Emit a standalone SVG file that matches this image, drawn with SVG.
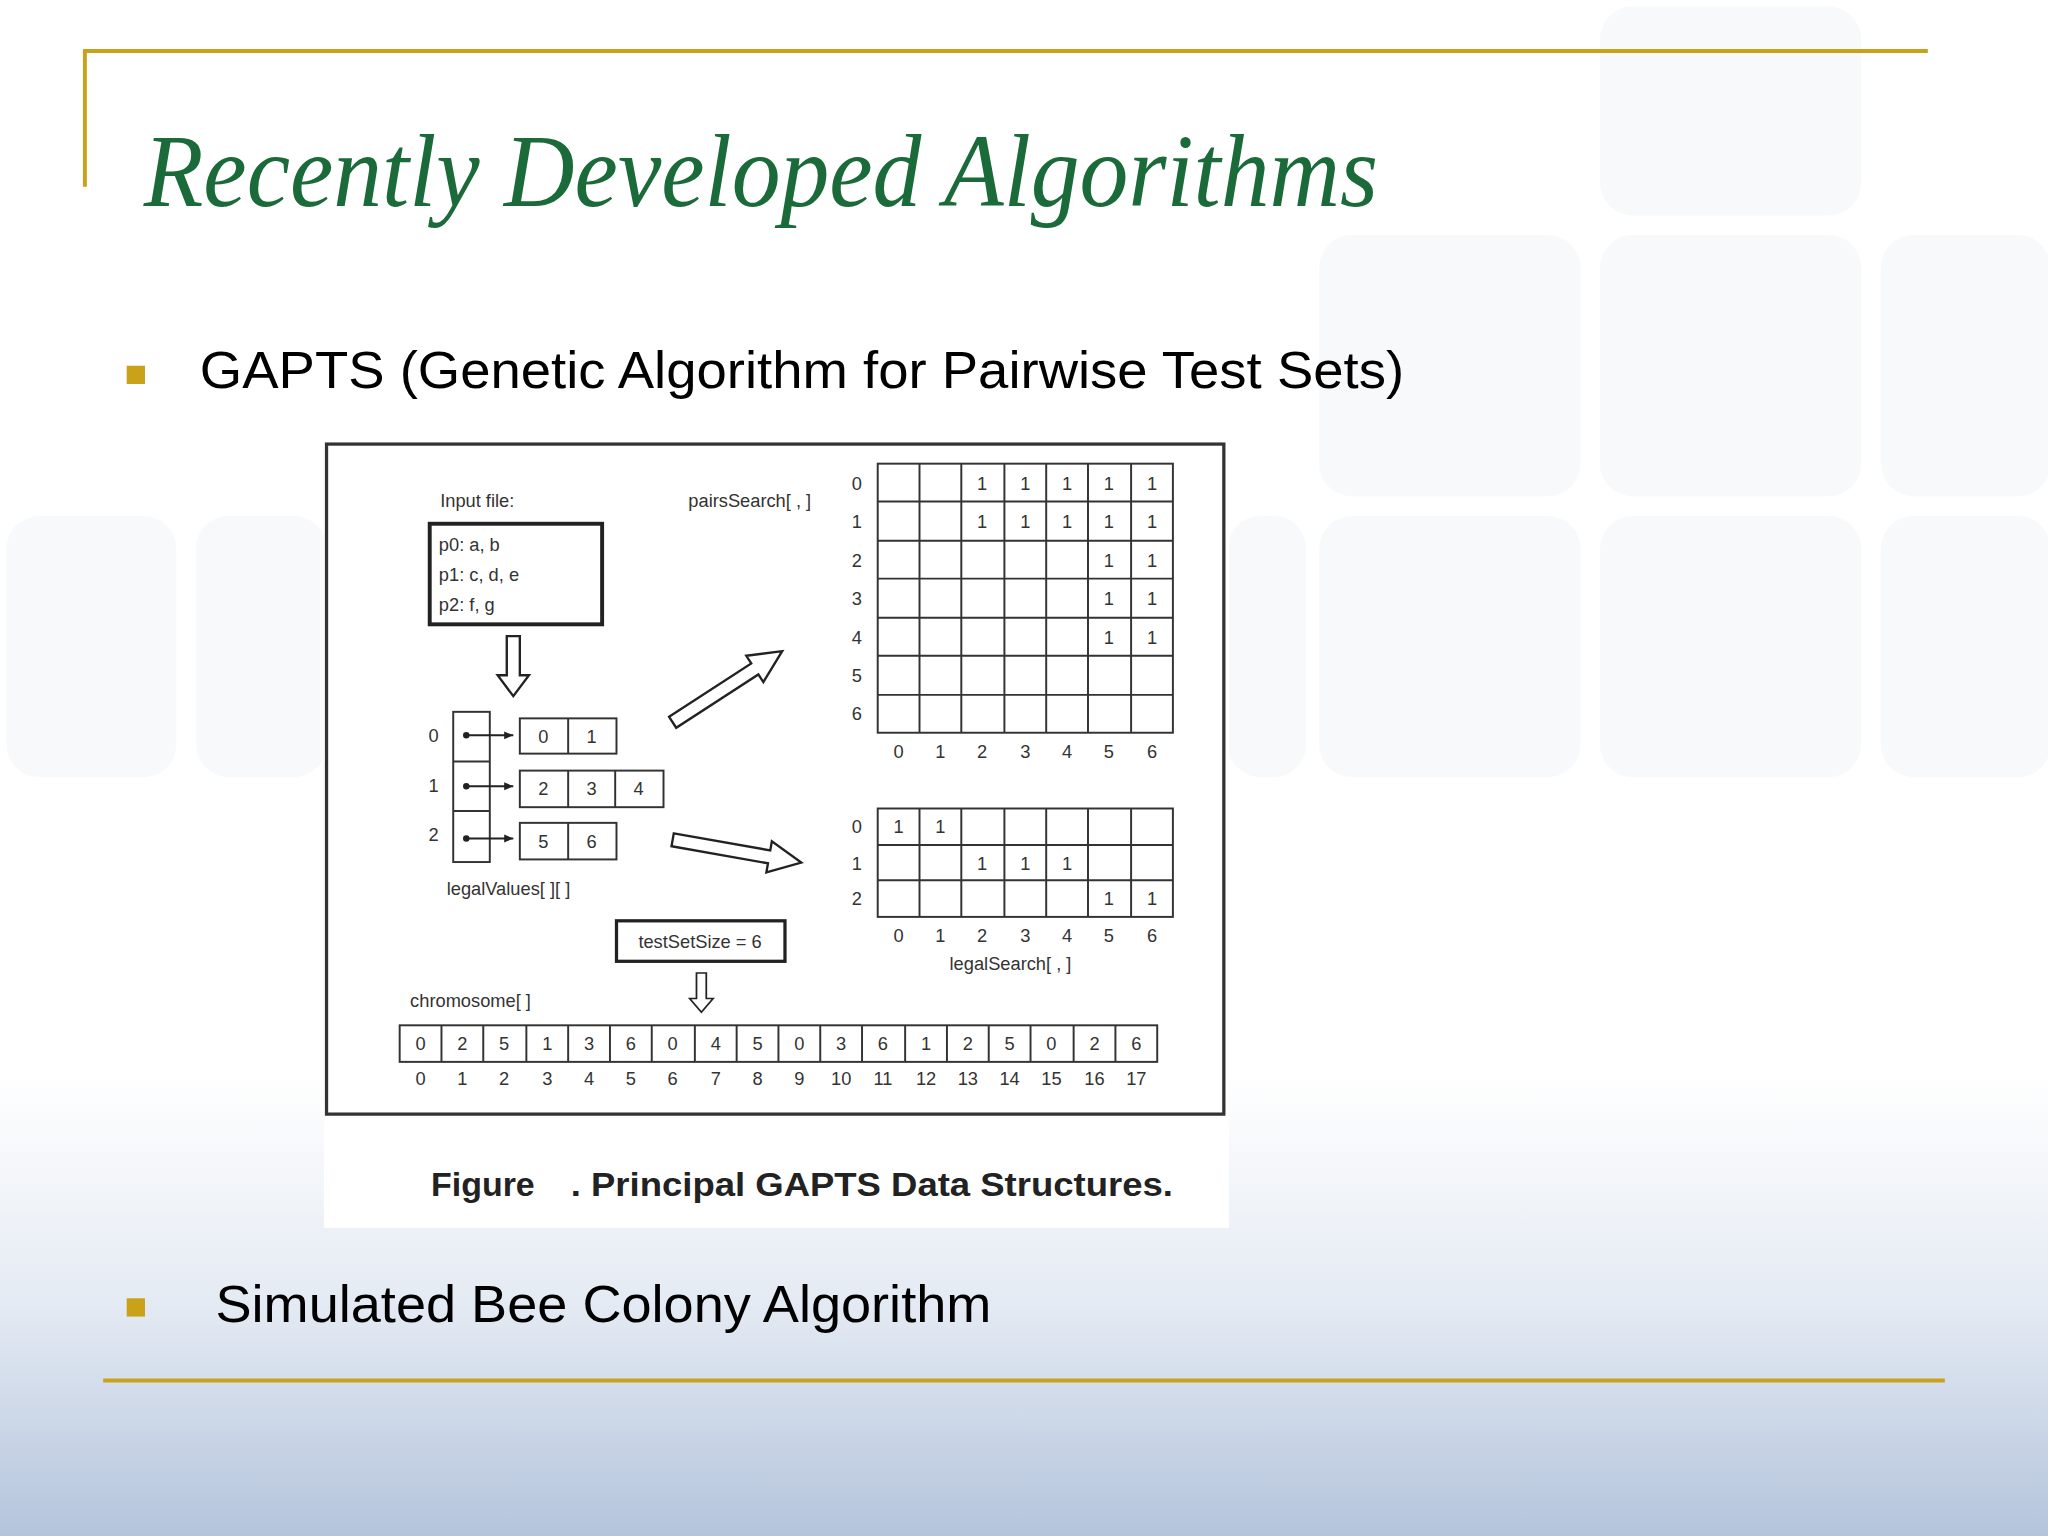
<svg xmlns="http://www.w3.org/2000/svg" width="2048" height="1536" viewBox="0 0 2048 1536">
<defs>
<linearGradient id="bg" x1="0" y1="0" x2="0" y2="1">
<stop offset="0" stop-color="#ffffff"/>
<stop offset="0.7" stop-color="#ffffff"/>
<stop offset="0.85" stop-color="#e4eaf3"/>
<stop offset="1" stop-color="#b4c4dc"/>
</linearGradient>
<path id="hdown" d="M-5,0 L5,0 L5,30 L12,30 L0,46 L-12,30 L-5,30 Z"/>
<path id="harrow" d="M0,-5 L75,-5 L75,-12 L100,0 L75,12 L75,5 L0,5 Z"/>
<marker id="ah" markerWidth="8" markerHeight="8" refX="7" refY="4" orient="auto" markerUnits="userSpaceOnUse"><path d="M0,1 L7,4 L0,7 Z" fill="#222"/></marker>
</defs>
<style>
.gold{stroke:#c9a21a;stroke-width:3;fill:none}
.sq{fill:#eef1f5;opacity:0.45}
.f{font-family:"Liberation Sans",Arial,sans-serif;font-size:14px;fill:#333}
.fm{text-anchor:middle}
.g{fill:none;stroke:#333;stroke-width:1.5}
.h{fill:#fff;stroke:#222;stroke-width:1.8}
.bul{font-family:"Liberation Sans",Arial,sans-serif;font-size:40px;fill:#000}
</style>
<rect width="2048" height="1536" fill="url(#bg)"/>
<g transform="scale(1.30612)">
<g id="bgsquares">
<rect class="sq" x="1010" y="180" width="200" height="200" rx="25"/>
<rect class="sq" x="1225" y="180" width="200" height="200" rx="25"/>
<rect class="sq" x="1440" y="180" width="130" height="200" rx="25"/>
<rect class="sq" x="1225" y="395" width="200" height="200" rx="25"/>
<rect class="sq" x="1010" y="395" width="200" height="200" rx="25"/>
<rect class="sq" x="1440" y="395" width="130" height="200" rx="25"/>
<rect class="sq" x="5" y="395" width="130" height="200" rx="25"/>
<rect class="sq" x="150" y="395" width="100" height="200" rx="25"/>
<rect class="sq" x="940" y="395" width="60" height="200" rx="25"/>
<rect class="sq" x="1225" y="5" width="200" height="160" rx="25"/>
</g>
<g id="frame">
<polyline class="gold" points="65,143 65,39 1476,39"/>
<line class="gold" x1="79" y1="1057" x2="1489" y2="1057"/>
</g>
<text x="110" y="158" font-family="Liberation Serif,serif" font-style="italic" font-size="80" fill="#1a6a3a" textLength="945" lengthAdjust="spacingAndGlyphs">Recently Developed Algorithms</text>
<g id="bullet1"><rect x="97" y="280" width="14" height="14" fill="#c9a21a"/><text class="bul" x="153" y="297" textLength="922" lengthAdjust="spacingAndGlyphs">GAPTS (Genetic Algorithm for Pairwise Test Sets)</text></g>
<g id="bullet2"><rect x="97" y="994" width="14" height="14" fill="#c9a21a"/><text class="bul" x="165" y="1012" textLength="594" lengthAdjust="spacingAndGlyphs">Simulated Bee Colony Algorithm</text></g>
<g id="figure">
<rect x="248" y="338" width="693" height="602" fill="#fff"/>
<rect x="250" y="340" width="687" height="513" fill="none" stroke="#333" stroke-width="2.5"/>
<text x="330" y="916" font-family="Liberation Sans,Arial,sans-serif" font-weight="bold" font-size="26" fill="#222">Figure</text>
<text x="437" y="916" font-family="Liberation Sans,Arial,sans-serif" font-weight="bold" font-size="26" fill="#222" textLength="461" lengthAdjust="spacingAndGlyphs">. Principal GAPTS Data Structures.</text>
</g>
<g id="inputfile">
<text class="f" x="337" y="388">Input file:</text>
<rect x="329" y="401" width="132" height="77" fill="none" stroke="#222" stroke-width="3"/>
<text class="f" x="336" y="422">p0:  a, b</text>
<text class="f" x="336" y="445">p1:  c, d, e</text>
<text class="f" x="336" y="468">p2:  f, g</text>
</g>
<g id="legalValues">
<rect x="347" y="545" width="28" height="115" class="g"/>
<line x1="347" y1="583" x2="375" y2="583" class="g"/>
<line x1="347" y1="621" x2="375" y2="621" class="g"/>
<text class="f fm" x="332" y="568">0</text><text class="f fm" x="332" y="606">1</text><text class="f fm" x="332" y="644">2</text>
<rect x="398" y="550" width="74" height="27" class="g"/><line x1="435" y1="550" x2="435" y2="577" class="g"/>
<rect x="398" y="590" width="110" height="28" class="g"/><line x1="435" y1="590" x2="435" y2="618" class="g"/><line x1="471" y1="590" x2="471" y2="618" class="g"/>
<rect x="398" y="630" width="74" height="28" class="g"/><line x1="435" y1="630" x2="435" y2="658" class="g"/>
<text class="f fm" x="416" y="569">0</text><text class="f fm" x="453" y="569">1</text>
<text class="f fm" x="416" y="609">2</text><text class="f fm" x="453" y="609">3</text><text class="f fm" x="489" y="609">4</text>
<text class="f fm" x="416" y="649">5</text><text class="f fm" x="453" y="649">6</text>
<text class="f" x="342" y="685">legalValues[ ][ ]</text>
</g>
<g id="connectors">
<circle cx="357" cy="563" r="2.5" fill="#222"/><line x1="357" y1="563" x2="393" y2="563" stroke="#222" stroke-width="1.5" marker-end="url(#ah)"/>
<circle cx="357" cy="602" r="2.5" fill="#222"/><line x1="357" y1="602" x2="393" y2="602" stroke="#222" stroke-width="1.5" marker-end="url(#ah)"/>
<circle cx="357" cy="642" r="2.5" fill="#222"/><line x1="357" y1="642" x2="393" y2="642" stroke="#222" stroke-width="1.5" marker-end="url(#ah)"/>
<use href="#hdown" class="h" transform="translate(393,487)"/>
<use href="#hdown" class="h" transform="translate(537,745) scale(0.75,0.65)"/>
<use href="#harrow" class="h" transform="translate(515,553) rotate(-33)"/>
<use href="#harrow" class="h" transform="translate(515,643) rotate(10)"/>
</g>
<g id="pairsSearch">
<text class="f" x="527" y="388">pairsSearch[ , ]</text>
<rect x="672" y="355" width="226" height="206" class="g"/>
<path class="g" d="M704,355V561M736,355V561M769,355V561M801,355V561M833,355V561M866,355V561M672,384H898M672,414H898M672,443H898M672,473H898M672,502H898M672,532H898"/>
<g class="f fm">
<text x="656" y="375">0</text><text x="656" y="404">1</text><text x="656" y="434">2</text><text x="656" y="463">3</text><text x="656" y="493">4</text><text x="656" y="522">5</text><text x="656" y="551">6</text>
<text x="688" y="580">0</text><text x="720" y="580">1</text><text x="752" y="580">2</text><text x="785" y="580">3</text><text x="817" y="580">4</text><text x="849" y="580">5</text><text x="882" y="580">6</text>
<text x="752" y="375">1</text><text x="785" y="375">1</text><text x="817" y="375">1</text><text x="849" y="375">1</text><text x="882" y="375">1</text>
<text x="752" y="404">1</text><text x="785" y="404">1</text><text x="817" y="404">1</text><text x="849" y="404">1</text><text x="882" y="404">1</text>
<text x="849" y="434">1</text><text x="882" y="434">1</text>
<text x="849" y="463">1</text><text x="882" y="463">1</text>
<text x="849" y="493">1</text><text x="882" y="493">1</text>
</g>
</g>
<g id="legalSearch">
<rect x="672" y="619" width="226" height="83" class="g"/>
<path class="g" d="M704,619V702M736,619V702M769,619V702M801,619V702M833,619V702M866,619V702M672,647H898M672,674H898"/>
<g class="f fm">
<text x="656" y="638">0</text><text x="656" y="666">1</text><text x="656" y="693">2</text>
<text x="688" y="721">0</text><text x="720" y="721">1</text><text x="752" y="721">2</text><text x="785" y="721">3</text><text x="817" y="721">4</text><text x="849" y="721">5</text><text x="882" y="721">6</text>
<text x="688" y="638">1</text><text x="720" y="638">1</text>
<text x="752" y="666">1</text><text x="785" y="666">1</text><text x="817" y="666">1</text>
<text x="849" y="693">1</text><text x="882" y="693">1</text>
</g>
<text class="f" x="727" y="743">legalSearch[ , ]</text>
</g>
<g id="testSetSize">
<rect x="472" y="705" width="129" height="31" fill="none" stroke="#222" stroke-width="2.5"/>
<text class="f fm" x="536" y="726">testSetSize = 6</text>
</g>
<g id="chromosome">
<text class="f" x="314" y="771">chromosome[ ]</text>
<rect x="306" y="785" width="580" height="28" class="g"/>
<path class="g" d="M338,785V813M370,785V813M403,785V813M435,785V813M467,785V813M499,785V813M532,785V813M564,785V813M596,785V813M628,785V813M660,785V813M693,785V813M725,785V813M757,785V813M789,785V813M822,785V813M854,785V813"/>
<g class="f fm">
<text x="322" y="804">0</text><text x="354" y="804">2</text><text x="386" y="804">5</text><text x="419" y="804">1</text><text x="451" y="804">3</text><text x="483" y="804">6</text><text x="515" y="804">0</text><text x="548" y="804">4</text><text x="580" y="804">5</text><text x="612" y="804">0</text><text x="644" y="804">3</text><text x="676" y="804">6</text><text x="709" y="804">1</text><text x="741" y="804">2</text><text x="773" y="804">5</text><text x="805" y="804">0</text><text x="838" y="804">2</text><text x="870" y="804">6</text>
<text x="322" y="831">0</text><text x="354" y="831">1</text><text x="386" y="831">2</text><text x="419" y="831">3</text><text x="451" y="831">4</text><text x="483" y="831">5</text><text x="515" y="831">6</text><text x="548" y="831">7</text><text x="580" y="831">8</text><text x="612" y="831">9</text><text x="644" y="831">10</text><text x="676" y="831">11</text><text x="709" y="831">12</text><text x="741" y="831">13</text><text x="773" y="831">14</text><text x="805" y="831">15</text><text x="838" y="831">16</text><text x="870" y="831">17</text>
</g>
</g>
</g>
</svg>
